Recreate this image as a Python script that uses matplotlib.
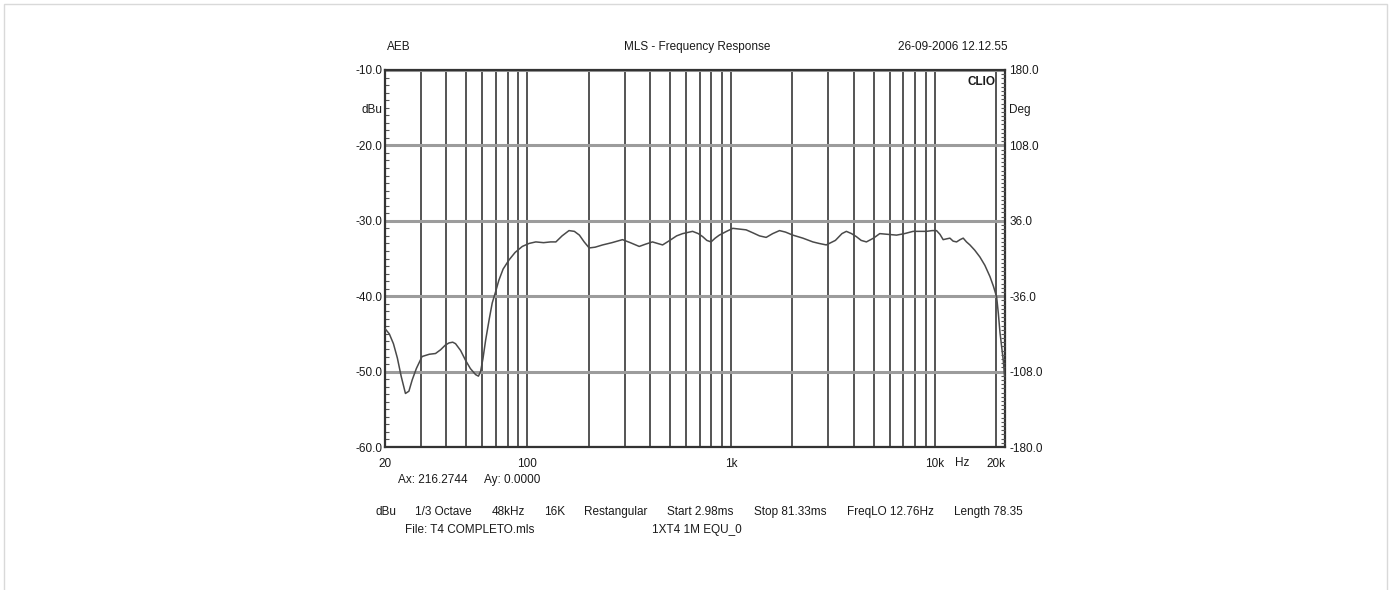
import numpy as np
import matplotlib
matplotlib.use("Agg")
import matplotlib.pyplot as plt
from matplotlib import font_manager
from matplotlib.ticker import FixedLocator, LogLocator, MultipleLocator, NullFormatter
from matplotlib.patches import Rectangle

# frequency response (Hz, dBu)
freq_hz = [20, 21, 22, 23, 24, 25.2, 26.2, 27.2, 28.5, 30.4, 33, 35.4, 37.5, 39.5,
           41.2, 43, 44.4, 47, 49.7, 52.5, 55.7, 57.5, 58.9, 60.5, 62.4, 65, 67.2,
           70, 72.4, 76, 81.2, 87, 94.4, 102, 110, 120, 130, 138, 148, 160, 170,
           180, 190, 201, 215, 234, 260, 293, 320, 354, 380, 411, 435, 461, 500,
           540, 578, 647, 690, 725, 760, 797, 835, 875, 950, 1019, 1100, 1185,
           1280, 1378, 1486, 1600, 1728, 1850, 2009, 2250, 2519, 2700, 2931, 3250,
           3500, 3679, 3900, 4118, 4350, 4614, 5000, 5364, 5900, 6484, 7100, 7823,
           8500, 9099, 9700, 10193, 10600, 10986, 11400, 11857, 12300, 12786,
           13300, 13781, 14300, 14863, 15700, 16642, 17600, 18646, 19400, 20107,
           20500, 20880, 21300, 21674, 21975]
level_dbu = [-44.3, -45.0, -46.3, -48.2, -50.6, -52.9, -52.6, -51.1, -49.6, -48.0,
             -47.7, -47.6, -47.1, -46.5, -46.2, -46.1, -46.3, -47.2, -48.5, -49.6,
             -50.4, -50.6, -50.0, -48.3, -45.8, -43.0, -40.9, -39.3, -37.9, -36.4,
             -35.2, -34.2, -33.4, -33.0, -32.8, -32.9, -32.8, -32.8, -32.0, -31.3,
             -31.4, -31.9, -32.8, -33.6, -33.5, -33.2, -32.9, -32.5, -32.9, -33.4,
             -33.1, -32.8, -33.0, -33.2, -32.6, -32.0, -31.7, -31.4, -31.7, -32.1,
             -32.6, -32.8, -32.3, -31.9, -31.4, -31.0, -31.1, -31.2, -31.6, -32.0,
             -32.2, -31.7, -31.3, -31.5, -31.9, -32.3, -32.8, -33.0, -33.2, -32.6,
             -31.7, -31.4, -31.7, -32.1, -32.6, -32.8, -32.3, -31.7, -31.8, -31.9,
             -31.7, -31.4, -31.4, -31.4, -31.3, -31.3, -31.8, -32.5, -32.4, -32.3,
             -32.7, -32.8, -32.5, -32.3, -32.8, -33.2, -33.9, -34.8, -35.9, -37.4,
             -38.7, -40.1, -42.3, -44.8, -46.8, -48.5, -50.5]

x_ticks = [20, 100, 1000, 10000, 20000]
x_labels = ["20", "100", "1k", "10k", "20k"]
db_ticks = [-10, -20, -30, -40, -50, -60]
deg_ticks = [180, 108, 36, -36, -108, -180]

installed = {f.name for f in font_manager.fontManager.ttflist}
base = "Liberation Sans Narrow" if "Liberation Sans Narrow" in installed else "Liberation Sans"
plt.rcParams["font.family"] = [base, "DejaVu Sans"]

ink = "#1a1a1a"
fs = 8.5

fig = plt.figure(figsize=(13.92, 5.90), dpi=100)
W, H = 1392, 590
L, R, T, B = 385, 1005, 70, 447
ax = fig.add_axes([L / W, 1 - B / H, (R - L) / W, (B - T) / H])

ax.semilogx(freq_hz, level_dbu, color="#4a4a4a", lw=1.1, zorder=3)
ax.set_xlim(20, 22100)
ax.set_ylim(-60, -10)

ax.xaxis.set_major_locator(FixedLocator(x_ticks))
ax.set_xticklabels(x_labels)
ax.xaxis.set_minor_locator(LogLocator(base=10, subs=np.arange(2, 10)))
ax.xaxis.set_minor_formatter(NullFormatter())
ax.grid(True, which="both", axis="x", color="#2e2e2e", lw=1.15)
ax.set_yticks(db_ticks)
ax.set_yticklabels([f"{v:.1f}" for v in db_ticks])
ax.yaxis.set_minor_locator(MultipleLocator(1))
ax.grid(True, which="major", axis="y", color="#9c9c9c", lw=2.2)
ax.tick_params(axis="x", which="both", length=0, labelsize=fs, colors=ink, pad=8)
ax.tick_params(axis="y", which="major", length=0, labelsize=fs, colors=ink, pad=2)
ax.tick_params(axis="y", which="minor", direction="in", length=3, width=0.8, color="#555555")
for s in ax.spines.values():
    s.set_color("#333333")
    s.set_linewidth(1.6)

ax2 = ax.twinx()
ax2.set_ylim(-180, 180)
ax2.set_yticks(deg_ticks)
ax2.set_yticklabels([f"{v:.1f}" for v in deg_ticks])
ax2.yaxis.set_minor_locator(MultipleLocator(4))
ax2.tick_params(axis="y", which="major", length=0, labelsize=fs, colors=ink, pad=3)
ax2.tick_params(axis="y", which="minor", direction="in", length=3, width=0.8, color="#555555")
for s in ax2.spines.values():
    s.set_visible(False)

# axis captions
ax.text(-0.004, 0.894, "dBu", transform=ax.transAxes, ha="right", va="center",
        fontsize=fs, color=ink)
ax.text(1.006, 0.894, "Deg", transform=ax.transAxes, ha="left", va="center",
        fontsize=fs, color=ink)
ax.text(0.985, 0.967, "CLIO", transform=ax.transAxes, ha="right", va="center",
        fontsize=fs, color=ink, fontweight="bold")
ax.text(13600, -0.042, "Hz", transform=ax.get_xaxis_transform(), ha="center",
        va="center", fontsize=fs, color=ink)

# header
fig.text(387 / W, 1 - 47 / H, "AEB", ha="left", va="center", fontsize=fs, color=ink)
fig.text(697 / W, 1 - 47 / H, "MLS - Frequency Response", ha="center", va="center",
         fontsize=fs, color=ink)
fig.text(1008 / W, 1 - 47 / H, "26-09-2006 12.12.55", ha="right", va="center",
         fontsize=fs, color=ink)

# footer
fig.text(398 / W, 1 - 480 / H, "Ax: 216.2744", ha="left", va="center",
         fontsize=fs, color=ink)
fig.text(484 / W, 1 - 480 / H, "Ay: 0.0000", ha="left", va="center",
         fontsize=fs, color=ink)
params = [("dBu", 375), ("1/3 Octave", 415), ("48kHz", 492), ("16K", 544),
          ("Restangular", 584), ("Start 2.98ms", 667), ("Stop 81.33ms", 754),
          ("FreqLO 12.76Hz", 847), ("Length 78.35", 954)]
for label, xp in params:
    fig.text(xp / W, 1 - 512 / H, label, ha="left", va="center", fontsize=fs, color=ink)
fig.text(405 / W, 1 - 530 / H, "File: T4 COMPLETO.mls", ha="left", va="center",
         fontsize=fs, color=ink)
fig.text(652 / W, 1 - 530 / H, "1XT4 1M EQU_0", ha="left", va="center",
         fontsize=fs, color=ink)

fig.patches.append(Rectangle((4 / W, -0.02), 1383 / W, 1.0 - 4 / H + 0.02,
                             transform=fig.transFigure, fill=False,
                             edgecolor="#d9d9d9", lw=1.0))

fig.savefig("out.png", dpi=100)
